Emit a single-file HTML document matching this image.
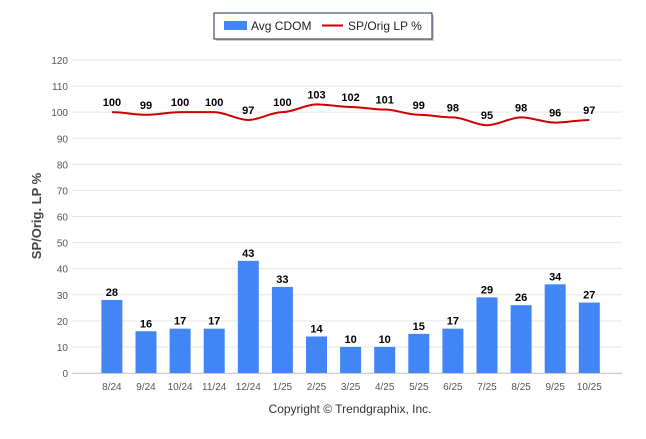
<!DOCTYPE html>
<html><head><meta charset="utf-8"><style>
body{margin:0;background:#fff;width:646px;height:434px;overflow:hidden;font-family:"Liberation Sans",Arial,sans-serif}
</style></head><body>
<svg id="chart" width="646" height="434" xmlns="http://www.w3.org/2000/svg" font-family="Liberation Sans, Arial, sans-serif">
<g>
<rect x="216" y="15" width="218" height="26" fill="#999" opacity="0.5"/>
<rect x="214" y="13" width="218" height="26" fill="#fff" stroke="#1f2d4d" stroke-width="1"/>
<rect x="224" y="21" width="23" height="9" fill="#4285f4"/>
<text x="251" y="30" font-size="12" fill="#222">Avg CDOM</text>
<line x1="322" y1="25.5" x2="343" y2="25.5" stroke="#cc0000" stroke-width="2"/>
<text x="348" y="30" font-size="12" fill="#222">SP/Orig LP %</text>
</g>
<g id="grid"></g>
<g id="bars"></g>
<g id="line"></g>
<text transform="translate(41,216) rotate(-90)" text-anchor="middle" font-size="13" font-weight="bold" fill="#444">SP/Orig. LP %</text>
<text x="350" y="413" text-anchor="middle" font-size="12" fill="#333">Copyright © Trendgraphix, Inc.</text>
</svg>
<script>
const categories=["8/24","9/24","10/24","11/24","12/24","1/25","2/25","3/25","4/25","5/25","6/25","7/25","8/25","9/25","10/25"];
const cdom=[28,16,17,17,43,33,14,10,10,15,17,29,26,34,27];
const lp=[100,99,100,100,97,100,103,102,101,99,98,95,98,96,97];
const yTicks=[0,10,20,30,40,50,60,70,80,90,100,110,120];
const NS="http://www.w3.org/2000/svg";
const y0=373,y1=60,yMax=120,left=77.8,step=34.1;
const y=v=>y0-(v/yMax)*(y0-y1);
const x=i=>left+step*(i+1);
function mk(t,a,p){const e=document.createElementNS(NS,t);for(const k in a)e.setAttribute(k,a[k]);p.appendChild(e);return e;}
const grid=document.getElementById('grid'),bars=document.getElementById('bars'),line=document.getElementById('line');
yTicks.forEach(v=>{
 const g=mk('line',{x1:72,x2:622,y1:y(v),y2:y(v),stroke:'#e6e6e6'},grid);
 
 
 const t=mk('text',{x:68,y:y(v)+4,'text-anchor':'end','font-size':10,fill:'#555'},grid);
 t.textContent=v;
 
 
});
mk('line',{x1:72,x2:622,y1:y0+0.5,y2:y0+0.5,stroke:'#ccc'},grid);
categories.forEach((c,i)=>{
 const t=mk('text',{x:x(i),y:y0+17,'text-anchor':'middle','font-size':10,fill:'#555'},grid);
 t.textContent=c;
 
 
 const b=mk('rect',{x:x(i)-10.5,y:y(cdom[i]),width:21,height:y0-y(cdom[i]),fill:'#4285f4'},bars);
 
 
 const l=mk('text',{x:x(i),y:y(cdom[i])-4,'text-anchor':'middle','font-size':11,'font-weight':'bold',fill:'#000'},bars);
 l.textContent=cdom[i];
 
 
});
let d='';
lp.forEach((v,i)=>{
 if(i===0){d+='M'+x(i)+','+y(v);}
 else{const px=x(i-1),py=y(lp[i-1]),cx=x(i),cy=y(v),h=step/3;d+=` C${px+h},${py} ${cx-h},${cy} ${cx},${cy}`;}
 const l=mk('text',{x:x(i),y:y(v)-6,'text-anchor':'middle','font-size':11,'font-weight':'bold',fill:'#000'},line);
 l.textContent=v;
 
 
});
const p=mk('path',{d:d,fill:'none',stroke:'#cc0000','stroke-width':2},line);


</script>
</body></html>
